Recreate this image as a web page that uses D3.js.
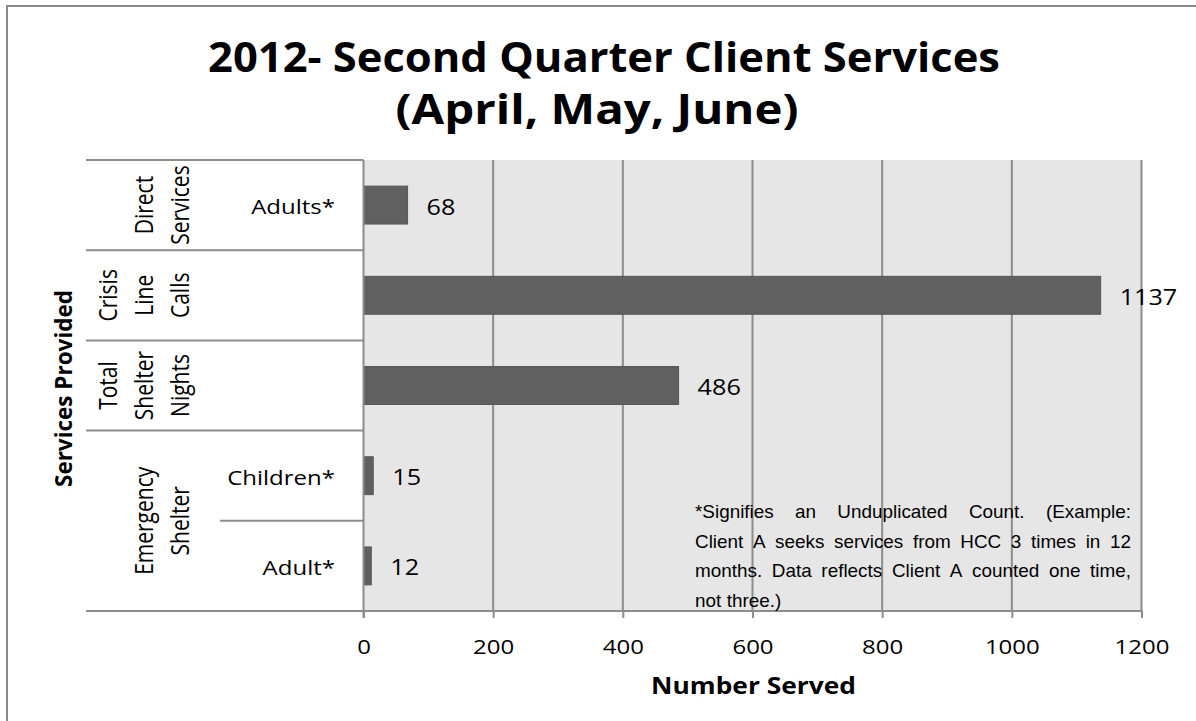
<!DOCTYPE html>
<html>
<head>
<meta charset="utf-8">
<script src="https://cdn.jsdelivr.net/npm/d3@7"></script>
<style>
  html, body { margin: 0; padding: 0; background: #ffffff; }
  svg { display: block; }
</style>
</head>
<body>
<svg id="chart" width="1196" height="721"></svg>
<script>
// ---- data ----
const titleLines = ["2012- Second Quarter Client Services", "(April, May, June)"];
const rowLabels = ["Adults*", "", "", "Children*", "Adult*"];
const values = [68, 1137, 486, 15, 12];
const groupLabels = [["Direct", "Services"], ["Crisis", "Line", "Calls"], ["Total", "Shelter", "Nights"], ["Emergency", "Shelter"]];
const groupRows = [[0], [1], [2], [3, 4]];
const xTicks = [0, 200, 400, 600, 800, 1000, 1200];
const xTitle = "Number Served";
const yTitle = "Services Provided";
const noteText = "*Signifies an Unduplicated Count.  (Example: Client A seeks services from HCC 3 times in 12 months.  Data reflects Client A counted one time, not three.)";
const noteLines = [
  ["*Signifies", "an", "Unduplicated", "Count.", "(Example:"],
  ["Client", "A", "seeks", "services", "from", "HCC", "3", "times", "in", "12"],
  ["months.", " Data", "reflects", "Client", "A", "counted", "one", "time,"],
  ["not", "three.)"]
];

const svg = d3.select("#chart");
const W = 1196, H = 721;
const plot = { left: 363.5, right: 1141.5, top: 160, bottom: 611 };
const gridColor = "#8c8c8c";
const SX = 1.2;

// outer border
svg.append("rect").attr("x", 7).attr("y", 6).attr("width", 1200).attr("height", 730)
  .attr("fill", "#fff").attr("stroke", "#8a8a8a").attr("stroke-width", 2);

const x = d3.scaleLinear().domain([0, 1200]).range([plot.left, plot.right]);
const y = d3.scaleBand().domain(d3.range(values.length)).range([plot.top, plot.bottom]).padding(0);
const bh = y.bandwidth() * 0.42;

// plot background
svg.append("rect").attr("x", plot.left).attr("y", plot.top)
  .attr("width", plot.right - plot.left).attr("height", plot.bottom - plot.top)
  .attr("fill", "#e6e6e6");

// gridlines
svg.append("g").selectAll("line").data(xTicks.filter(d => d > 0)).join("line")
  .attr("x1", d => x(d)).attr("x2", d => x(d))
  .attr("y1", plot.top).attr("y2", plot.bottom)
  .attr("stroke", gridColor).attr("stroke-width", 2);

// bars
svg.append("g").selectAll("rect").data(values).join("rect")
  .attr("x", x(0))
  .attr("y", (d, i) => y(i) + y.bandwidth() / 2 - bh / 2)
  .attr("width", d => x(d) - x(0))
  .attr("height", bh)
  .attr("fill", "#606060")
  .attr("stroke", "#555555").attr("stroke-width", 1);

// data labels
svg.append("g").selectAll("text").data(values).join("text")
  .attr("transform", (d, i) => `translate(${x(d) + 19},${y(i) + y.bandwidth() / 2 + 9.5}) scale(${SX},1)`)
  .attr("font-family", "'Open Sans', sans-serif").attr("font-size", 21).attr("fill", "#000")
  .text(d => d);

// x axis
const xAxis = d3.axisBottom(x).tickValues(xTicks).tickSize(7).tickFormat(d3.format("d"));
const gx = svg.append("g").attr("transform", `translate(0,${plot.bottom})`).call(xAxis);
gx.select(".domain").attr("stroke", gridColor).attr("stroke-width", 2).attr("d", `M${plot.left - 8},0H${plot.right}`);
gx.selectAll(".tick line").attr("stroke", gridColor).attr("stroke-width", 2);
gx.selectAll(".tick text").attr("font-family", "'Open Sans', sans-serif").attr("font-size", 20)
  .attr("fill", "#000").attr("y", 0).attr("dy", 0)
  .attr("transform", `translate(0,43) scale(${SX},1)`);

// left axis line
svg.append("line").attr("x1", plot.left).attr("x2", plot.left)
  .attr("y1", plot.top).attr("y2", plot.bottom + 7)
  .attr("stroke", gridColor).attr("stroke-width", 2);

// category separator lines
const outerBounds = [0, 1, 2, 3, 5];
svg.append("g").selectAll("line").data(outerBounds).join("line")
  .attr("x1", 86).attr("x2", plot.left)
  .attr("y1", d => d < 5 ? y(d) : plot.bottom).attr("y2", d => d < 5 ? y(d) : plot.bottom)
  .attr("stroke", gridColor).attr("stroke-width", 2);
svg.append("line").attr("x1", 220).attr("x2", plot.left)
  .attr("y1", y(4)).attr("y2", y(4))
  .attr("stroke", gridColor).attr("stroke-width", 2);

// inner row labels
svg.append("g").selectAll("text").data(rowLabels).join("text")
  .attr("transform", (d, i) => `translate(335,${y(i) + y.bandwidth() / 2 + 9}) scale(${SX},1)`)
  .attr("text-anchor", "end")
  .attr("font-family", "'Open Sans', sans-serif").attr("font-size", 20).attr("fill", "#000")
  .text(d => d);

// outer group labels (rotated, multi-line)
groupLabels.forEach((lines, gi) => {
  const rows = groupRows[gi];
  const cy = (y(rows[0]) + y(rows[rows.length - 1]) + y.bandwidth()) / 2;
  lines.forEach((ln, li) => {
    const bx = 189 - (lines.length - 1 - li) * 36;
    svg.append("text")
      .attr("transform", `translate(${bx},${cy}) scale(1.25,1) rotate(-90)`)
      .attr("text-anchor", "middle")
      .attr("font-family", "'Open Sans', sans-serif").attr("font-size", 21).attr("fill", "#000")
      .text(ln);
  });
});

// axis titles
svg.append("text")
  .attr("transform", `translate(72,${(plot.top + plot.bottom) / 2 + 3}) rotate(-90)`)
  .attr("text-anchor", "middle")
  .attr("font-family", "'Open Sans', sans-serif").attr("font-weight", "bold").attr("font-size", 24)
  .attr("textLength", 197).attr("lengthAdjust", "spacingAndGlyphs")
  .text(yTitle);

svg.append("text")
  .attr("x", (plot.left + plot.right) / 2 + 1).attr("y", 694)
  .attr("text-anchor", "middle")
  .attr("font-family", "'Open Sans', sans-serif").attr("font-weight", "bold").attr("font-size", 23)
  .attr("textLength", 205).attr("lengthAdjust", "spacingAndGlyphs")
  .text(xTitle);

// title
const titleSpec = [{ cx: 604, base: 72, len: 792 }, { cx: 597, base: 124, len: 403 }];
titleLines.forEach((t, i) => {
  svg.append("text")
    .attr("x", titleSpec[i].cx).attr("y", titleSpec[i].base)
    .attr("text-anchor", "middle")
    .attr("font-family", "'Open Sans', sans-serif").attr("font-weight", "bold").attr("font-size", 41)
    .attr("textLength", titleSpec[i].len).attr("lengthAdjust", "spacingAndGlyphs")
    .text(t);
});

// note text (justified)
const noteX0 = 695, noteX1 = 1131, noteBase0 = 518, noteLH = 29.5, noteSX = 1.05;
const noteG = svg.append("g");
noteLines.forEach((words, li) => {
  const base = noteBase0 + li * noteLH;
  const tmp = words.map(w => {
    const t = noteG.append("text")
      .attr("font-family", "'Liberation Sans', Arial, sans-serif").attr("font-size", 18).attr("fill", "#000")
      .text(w);
    return { t, w: t.node().getComputedTextLength() * noteSX };
  });
  const total = d3.sum(tmp, d => d.w);
  const last = li === noteLines.length - 1;
  const gap = (!last && words.length > 1) ? (noteX1 - noteX0 - total) / (words.length - 1) : 5.5;
  let cx = noteX0;
  tmp.forEach(d => {
    d.t.attr("transform", `translate(${cx},${base}) scale(${noteSX},1)`);
    cx += d.w + gap;
  });
});
</script>
</body>
</html>
